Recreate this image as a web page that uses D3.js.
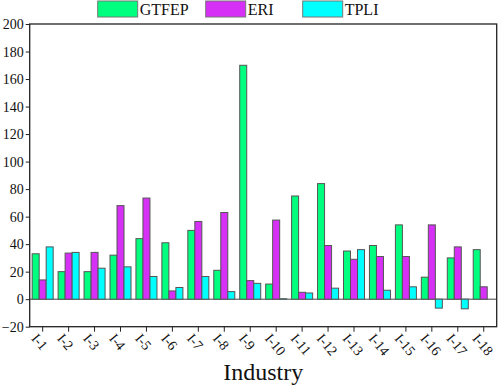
<!DOCTYPE html>
<html><head><meta charset="utf-8">
<script src="https://cdn.jsdelivr.net/npm/d3@7/dist/d3.min.js"></script>
<style>body{margin:0;background:#fff}svg{display:block}text{font-family:"Liberation Serif","Times New Roman",serif}</style>
</head><body><svg id="c" width="498" height="386"></svg>
<script>
const categories = ["I-1","I-2","I-3","I-4","I-5","I-6","I-7","I-8","I-9","I-10","I-11","I-12","I-13","I-14","I-15","I-16","I-17","I-18"];
const series = ["GTFEP","ERI","TPLI"];
const colors = ["#00ff7f","#d62ff5","#00ffff"];
const GTFEP = [33,20,20,32,44,41,50,21,170,11,75,84,35,39,54,16,30,36];
const ERI   = [14,33.5,34,68,73.5,6,56.5,63,13.5,57.5,5,39,29,31,31,54,38,9];
const TPLI  = [38,34,22.5,23.5,16.5,8.5,16.5,5.5,11.5,0.3,4.5,8,36,6.5,9,-6.5,-7,0];
const yTicks = [-20,0,20,40,60,80,100,120,140,160,180,200];
const values = [GTFEP, ERI, TPLI];

const svg = d3.select("#c");
const L = 29.7, R = 496.7, T = 24, B = 326.7;
const x = d3.scaleBand().domain(categories).range([L, R]).padding(0);
const y = d3.scaleLinear().domain([-20, 200]).range([B, T]);
const bw = x.bandwidth();
const xs = d3.scaleBand().domain(series).range([bw*0.095, bw*0.905]).padding(0);

// zero line
svg.append("line").attr("x1", L).attr("x2", R).attr("y1", y(0)).attr("y2", y(0))
  .attr("stroke", "#444").attr("stroke-width", 1);

// bars
series.forEach((s, si) => {
  svg.append("g").selectAll("rect").data(values[si]).join("rect")
    .attr("x", (d, i) => x(categories[i]) + xs(s))
    .attr("width", xs.bandwidth())
    .attr("y", d => y(Math.max(0, d)))
    .attr("height", d => Math.abs(y(d) - y(0)))
    .attr("fill", colors[si]).attr("stroke", "#555").attr("stroke-width", 1);
});

// frame
svg.append("rect").attr("x", L).attr("y", T).attr("width", R - L).attr("height", B - T)
  .attr("fill", "none").attr("stroke", "#222").attr("stroke-width", 1.3);

// y axis
const ya = svg.append("g").attr("transform", `translate(${L},0)`)
  .call(d3.axisLeft(y).tickValues(yTicks).tickSize(4).tickPadding(2).tickFormat(d3.format("d")));
ya.select(".domain").remove();
ya.selectAll("line").attr("stroke", "#222");
ya.selectAll("text").attr("font-size", 14).attr("fill", "#111")
  .style("font-family", "'Liberation Serif', serif");

// x axis
const xa = svg.append("g").attr("transform", `translate(0,${B})`)
  .call(d3.axisBottom(x).tickSize(5).tickSizeOuter(0));
xa.select(".domain").remove();
xa.selectAll("line").attr("stroke", "#222");
xa.selectAll("text").attr("font-size", 14).attr("fill", "#111")
  .style("font-family", "'Liberation Serif', serif")
  .attr("text-anchor", "start").attr("y", 0).attr("dy", 0)
  .attr("transform", "translate(-12,12) rotate(50)");

// x title
svg.append("text").attr("x", (L + R) / 2).attr("y", 380).attr("text-anchor", "middle")
  .attr("font-size", 24).attr("fill", "#111").text("Industry");

// legend
const legX = [97.7, 205.7, 302.7];
series.forEach((s, si) => {
  svg.append("rect").attr("x", legX[si]).attr("y", 1).attr("width", 40).attr("height", 16)
    .attr("fill", colors[si]).attr("stroke", "#777").attr("stroke-width", 1);
  svg.append("text").attr("x", legX[si] + 42).attr("y", 15).attr("font-size", 16)
    .attr("fill", "#111").text(s);
});
</script></body></html>
